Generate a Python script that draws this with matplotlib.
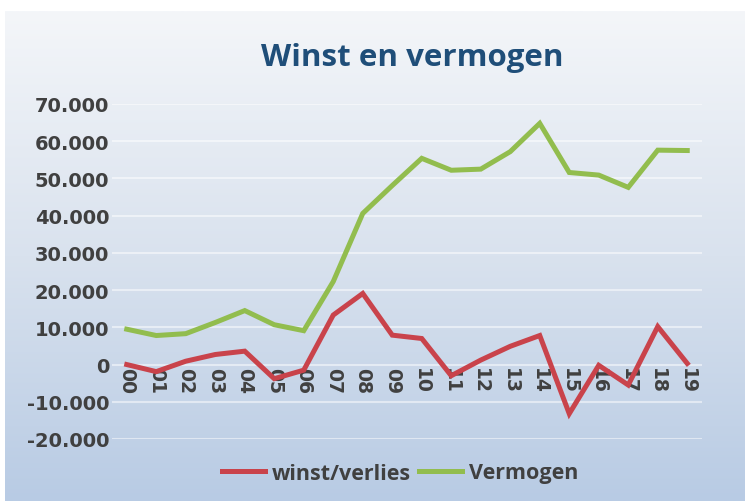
import matplotlib
matplotlib.use("Agg")
import matplotlib.pyplot as plt
import numpy as np
from matplotlib.colors import LinearSegmentedColormap
from matplotlib.ticker import FuncFormatter

# ---- data ----
years = ["00", "01", "02", "03", "04", "05", "06", "07", "08", "09",
         "10", "11", "12", "13", "14", "15", "16", "17", "18", "19"]
winst = [0, -1900, 900, 2700, 3600, -3800, -1500, 13300, 19100, 7900,
         7000, -3000, 1200, 4900, 7800, -13200, -200, -5500, 10200, 300]
vermogen = [9500, 7800, 8300, 11300, 14500, 10700, 9100, 22300, 40600, 48100,
            55400, 52200, 52500, 57200, 64800, 51600, 50900, 47600, 57600, 57500]
y_ticks = [-20000, -10000, 0, 10000, 20000, 30000, 40000, 50000, 60000, 70000]
title = "Winst en vermogen"
series_names = ["winst/verlies", "Vermogen"]

W, H = 749, 502
fig = plt.figure(figsize=(W / 100, H / 100), dpi=100, facecolor="white")

# background panel with vertical gradient
bg = fig.add_axes([5 / W, 0.0, 740 / W, 490 / H], zorder=0)
cmap = LinearSegmentedColormap.from_list("bg", ["#F4F6F9", "#D9E2EE", "#B8CBE4"])
grad = np.linspace(0, 1, 256).reshape(-1, 1)
bg.imshow(grad, aspect="auto", cmap=cmap, extent=[0, 1, 0, 1], origin="upper")
bg.set_axis_off()

# main plot axes
ax = fig.add_axes([112 / W, 1 - 440 / H, 590 / W, (440 - 105) / H], zorder=1)
ax.patch.set_alpha(0)
x = np.arange(len(years))
red = "#C9434B"
green = "#92BD4E"
ax.plot(x, winst, color=red, lw=3.6, solid_joinstyle="miter", label=series_names[0], zorder=3)
ax.plot(x, vermogen, color=green, lw=3.6, solid_joinstyle="miter", label=series_names[1], zorder=3)

ax.set_xlim(-0.5, len(years) - 0.5)
ax.set_ylim(-20000, 70000)
ax.set_yticks(y_ticks)
ax.yaxis.set_major_formatter(FuncFormatter(lambda v, p: f"{int(v):,}".replace(",", ".")))
ax.grid(axis="y", color="white", alpha=0.5, lw=1.5)
ax.set_axisbelow(True)

for s in ["top", "right", "left"]:
    ax.spines[s].set_visible(False)
ax.spines["bottom"].set_position(("data", 0))
ax.spines["bottom"].set_color("none")

ax.set_xticks(x)
ax.set_xticklabels(years, rotation=-90, fontsize=13.5, fontweight="bold",
                   color="#404040", family="DejaVu Sans")
ax.tick_params(axis="x", length=0, pad=2)
ax.tick_params(axis="y", length=0, pad=2, labelsize=14, labelcolor="#404040")
for lab in ax.get_yticklabels():
    lab.set_fontweight("bold")
    lab.set_family("DejaVu Sans")

fig.text(412 / W, 1 - 58 / H, title, ha="center", va="center", fontsize=22.5,
         fontweight="bold", color="#1F4E79", family="Open Sans")

leg = fig.legend(loc="center", bbox_to_anchor=(400 / W, 1 - 474 / H), ncol=2, frameon=False,
                 handlelength=2.0, handletextpad=0.3, columnspacing=0.4,
                 prop={"family": "Open Sans", "weight": "bold", "size": 15.5})
for t in leg.get_texts():
    t.set_color("#404040")

fig.savefig("out.png", dpi=100, facecolor="white")
